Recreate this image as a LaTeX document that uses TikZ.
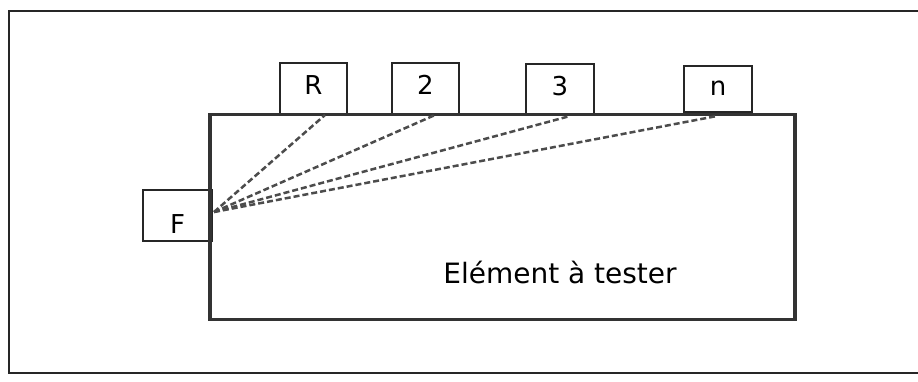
\documentclass[tikz,border=0pt]{standalone}
\usepackage{fontspec}
\setmainfont{DejaVu Sans}
\begin{document}
\begin{tikzpicture}[x=1pt,y=-1pt,
  frame/.style={draw=black!85, line width=1.3pt},
  sensor/.style={draw=black!85, line width=1.4pt, inner sep=0pt, font=\fontsize{26}{30}\selectfont},
  textup/.style={text height=20pt, text depth=8pt},
  textdown/.style={text height=35pt, text depth=0pt},
  element/.style={draw=black!80, line width=3.5pt, inner sep=0pt},
  wave/.style={draw=black!70, line width=2.5pt, dash pattern=on 6pt off 3pt}
]
\useasboundingbox (0,0) rectangle (918,381);
\fill[white] (0,0) rectangle (918,381);
\draw[frame] (918,11) -- (9,11) -- (9,373) -- (918,373);
% sensors
\node[sensor, textup, minimum width=67pt, minimum height=51pt] (R) at (313.5,88.5) {R};
\node[sensor, textup, minimum width=67pt, minimum height=51pt] (s2) at (425.5,88.5) {2};
\node[sensor, textup, minimum width=68pt, minimum height=50pt] (s3) at (560,89) {3};
\node[sensor, textup, minimum width=68pt, minimum height=46pt] (sn) at (718,89) {n};
\node[sensor, textdown, minimum width=69pt, minimum height=51pt] (F) at (177.5,215.5) {F};
% element
\node[element, minimum width=585pt, minimum height=205pt] (elem) at (502.5,217) {};
\node[font=\fontsize{28}{32}\selectfont, inner sep=0pt] (label) at (560,272) {Elément à tester};
% wave paths
\coordinate (src) at (214,212);
\coordinate (eR) at (325,115);
\coordinate (e2) at (435,115);
\coordinate (e3) at (570,116);
\coordinate (en) at (717,116);
\draw[wave] (src) -- (eR);
\draw[wave] (src) -- (e2);
\draw[wave] (src) -- (e3);
\draw[wave] (src) -- (en);
\end{tikzpicture}
\end{document}
